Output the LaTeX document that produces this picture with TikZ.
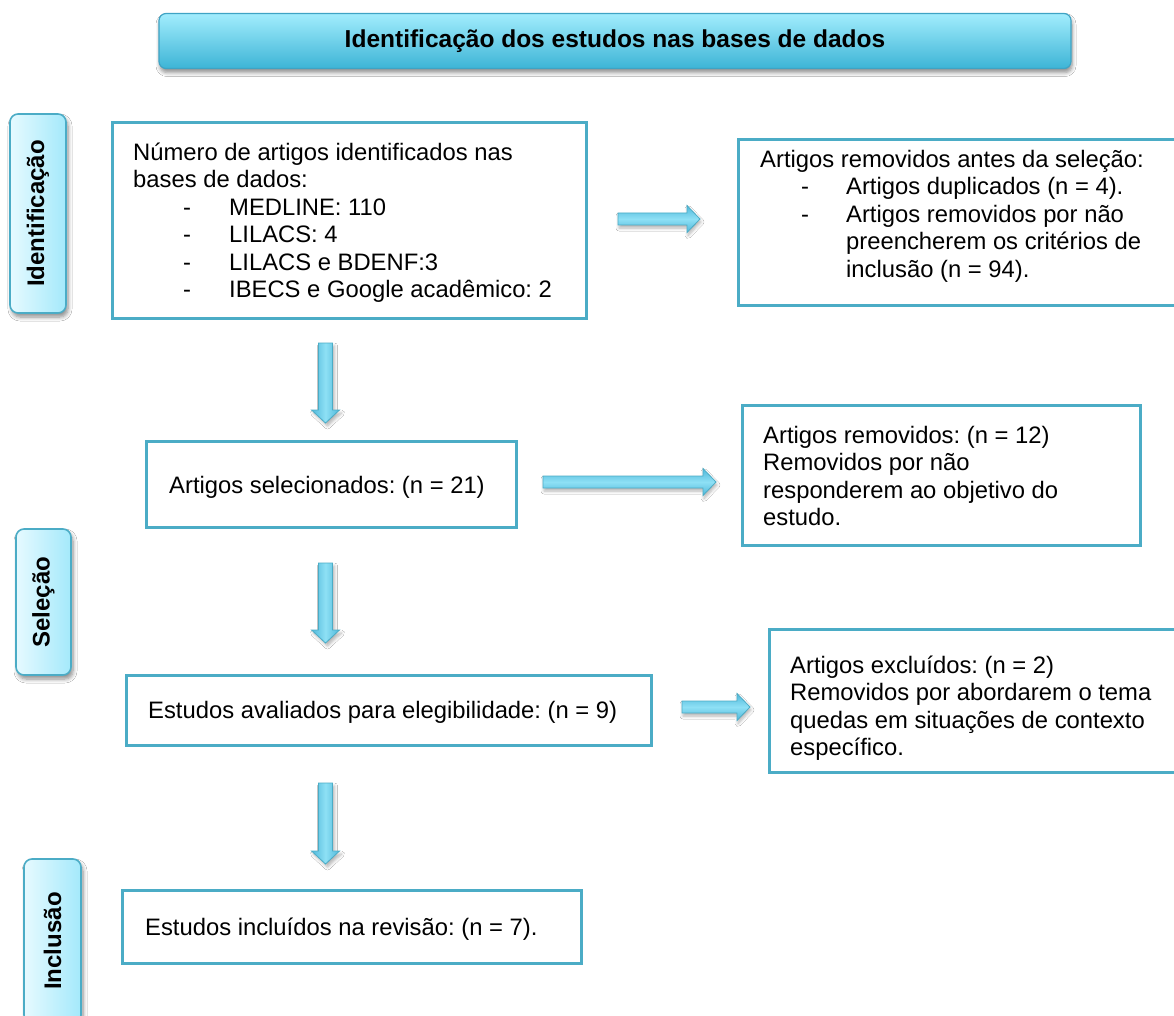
\documentclass[tikz,border=0pt]{standalone}
\usepackage{fontspec}
\setmainfont{Liberation Sans}
\frenchspacing
\usetikzlibrary{calc,shadows.blur}
\definecolor{boxline}{HTML}{4BACC6}
\definecolor{bannerline}{HTML}{3FA3C4}
\definecolor{bantop}{HTML}{A2EDFD}
\definecolor{banbot}{HTML}{3DB4D6}
\definecolor{sideleft}{HTML}{E6FAFF}
\definecolor{sideright}{HTML}{A4E9FB}
\definecolor{arrowline}{HTML}{4BACC6}
\definecolor{arrowlight}{HTML}{8EE0F5}
\definecolor{arrowdark}{HTML}{4FB8DA}
\tikzset{
  flowbox/.style={draw=boxline, line width=3pt, fill=white, inner sep=0pt},
  banner/.style={draw=bannerline, line width=1.2pt, rounded corners=7pt,
    top color=bantop, bottom color=banbot, inner sep=0pt,
    blur shadow={shadow xshift=1pt, shadow yshift=-4pt, shadow blur radius=4pt, shadow blur steps=6, shadow opacity=45},
    font=\fontsize{24.5}{28}\selectfont\bfseries\frenchspacing},
  sidebox/.style={draw=boxline, line width=1.6pt, rounded corners=8pt,
    left color=sideleft, right color=sideright, inner sep=0pt,
    blur shadow={shadow xshift=2pt, shadow yshift=-4pt, shadow blur radius=4pt, shadow blur steps=6, shadow opacity=45}},
  sidetext/.style={rotate=90, inner sep=0pt, font=\fontsize{24}{28}\selectfont\bfseries},
  txt/.style={inner sep=0pt, font=\fontsize{23.8}{27.5}\selectfont\frenchspacing, align=left},
  harrowfill/.style={draw=arrowline, line width=0.8pt,
    top color=arrowdark, bottom color=arrowdark, middle color=arrowlight,
    blur shadow={shadow xshift=1pt, shadow yshift=-3pt, shadow blur radius=3pt, shadow blur steps=5, shadow opacity=30}},
  varrowfill/.style={draw=arrowline, line width=0.8pt,
    left color=arrowdark, right color=arrowdark, middle color=arrowlight,
    blur shadow={shadow xshift=2pt, shadow yshift=-3pt, shadow blur radius=3pt, shadow blur steps=5, shadow opacity=30}}
}
\newcommand\rightblock[2]{%
  \path[harrowfill] let \p1=(#1), \p2=(#2) in
    (\x1,\y1+6pt) -- (\x2-13pt,\y1+6pt) -- (\x2-13pt,\y1+13.5pt) -- (\x2,\y1)
    -- (\x2-13pt,\y1-13.5pt) -- (\x2-13pt,\y1-6pt) -- (\x1,\y1-6pt) -- cycle;}
\newcommand\downblock[2]{%
  \path[varrowfill] let \p1=(#1), \p2=(#2) in
    (\x1-7pt,\y1) -- (\x1-7pt,\y2+13pt) -- (\x1-14pt,\y2+13pt) -- (\x1,\y2)
    -- (\x1+14pt,\y2+13pt) -- (\x1+7pt,\y2+13pt) -- (\x1+7pt,\y1) -- cycle;}
\begin{document}
\begin{tikzpicture}[x=1pt,y=-1pt]
\useasboundingbox (0,0) rectangle (1174,1016);
\fill[white] (0,0) rectangle (1174,1016);

% banner
\node[banner, minimum width=912pt, minimum height=55pt] (ban) at (615,41) {Identificação dos estudos nas bases de dados};

% side labels
\node[sidebox, minimum width=56pt, minimum height=199pt] (lid) at (38,213.5) {};
\node[sidetext] (lidt) at (lid) {Identificação};
\node[sidebox, minimum width=55pt, minimum height=146pt] (lsel) at (43.5,602) {};
\node[sidetext] (lselt) at (lsel) {Seleção};
\node[sidebox, minimum width=57pt, minimum height=164pt] (linc) at (52.5,941) {};
\node[sidetext] (linct) at (linc) {Inclusão};

% main boxes
\node[flowbox, minimum width=474pt, minimum height=195pt] (b1) at (349.5,220.5) {};
\node[txt, anchor=north west] (b1t) at (133,137.5) {\rule{0pt}{22.5pt}Número de artigos identificados nas\\
bases de dados:\\
\hspace*{50pt}\makebox[46pt][l]{-}MEDLINE: 110\\
\hspace*{50pt}\makebox[46pt][l]{-}LILACS: 4\\
\hspace*{50pt}\makebox[46pt][l]{-}LILACS e BDENF:3\\
\hspace*{50pt}\makebox[46pt][l]{-}IBECS e Google acadêmico: 2};

\node[flowbox, minimum width=440pt, minimum height=165pt] (r1) at (958,222.5) {};
\node[txt, anchor=north west] (r1t) at (760,144.5) {\rule{0pt}{22.5pt}Artigos removidos antes da seleção:\\
\hspace*{41pt}\makebox[45pt][l]{-}Artigos duplicados (n = 4).\\
\hspace*{41pt}\makebox[45pt][l]{-}Artigos removidos por não\\
\hspace*{86pt}preencherem os critérios de\\
\hspace*{86pt}inclusão (n = 94).};

\node[flowbox, minimum width=370pt, minimum height=86pt] (b2) at (331,484) {};
\node[txt, anchor=base west] (b2t) at (169,493) {Artigos selecionados: (n = 21)};

\node[flowbox, minimum width=398pt, minimum height=140pt] (r2) at (941,475.5) {};
\node[txt, anchor=north west] (r2t) at (763,420.5) {\rule{0pt}{22.5pt}Artigos removidos: (n = 12)\\
Removidos por não\\
responderem ao objetivo do\\
estudo.};

\node[flowbox, minimum width=525pt, minimum height=70pt] (b3) at (388.5,710) {};
\node[txt, anchor=base west] (b3t) at (148,718.5) {Estudos avaliados para elegibilidade: (n = 9)};

\node[flowbox, minimum width=408pt, minimum height=143pt] (r3) at (973,701) {};
\node[txt, anchor=north west] (r3t) at (790,650.5) {\rule{0pt}{22.5pt}Artigos excluídos: (n = 2)\\
Removidos por abordarem o tema\\
quedas em situações de contexto\\
específico.};

\node[flowbox, minimum width=459pt, minimum height=73pt] (b4) at (351.5,926.5) {};
\node[txt, anchor=base west] (b4t) at (145,935) {Estudos incluídos na revisão: (n = 7).};

% arrows
\coordinate (h1s) at (618,219);  \coordinate (h1e) at (700,219);
\coordinate (h2s) at (543,482);  \coordinate (h2e) at (716,482);
\coordinate (h3s) at (682,707);  \coordinate (h3e) at (750,707);
\coordinate (v1s) at (325.5,343); \coordinate (v1e) at (325.5,423);
\coordinate (v2s) at (325.5,563); \coordinate (v2e) at (325.5,643);
\coordinate (v3s) at (325.5,783); \coordinate (v3e) at (325.5,864);
\rightblock{h1s}{h1e}
\rightblock{h2s}{h2e}
\rightblock{h3s}{h3e}
\downblock{v1s}{v1e}
\downblock{v2s}{v2e}
\downblock{v3s}{v3e}
\end{tikzpicture}
\end{document}
